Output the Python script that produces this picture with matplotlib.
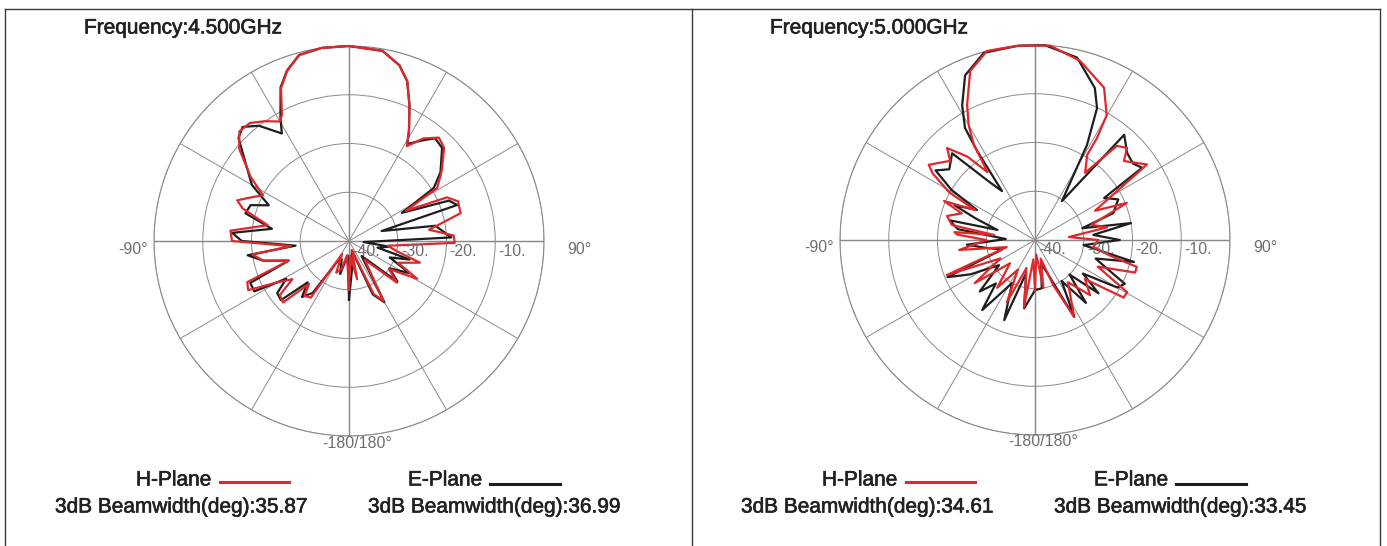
import numpy as np
import matplotlib
matplotlib.use("Agg")
import matplotlib.pyplot as plt
import matplotlib.patheffects as pe

plt.rcParams['font.family'] = ['Liberation Sans', 'DejaVu Sans']

W, H = 1387, 546

# ---- 4.5 GHz ----
h45_ang = [-180, -172, -165, -158, -152, -146, -141, -137, -133, -128, -124, -120, -116, -112, -108,
           -103, -98, -95, -90, -85, -79, -73, -70, -66, -62, -57, -50, -45, -40, -35, -30, -28, -24,
           -20, -15, -8, 0, 10, 16, 20, 24, 28.6, 31.4, 36, 41, 45.6, 53, 59, 62, 66, 70, 76, 82, 87,
           91, 97, 102, 107, 114, 119, 125, 131, 140, 150, 155, 162, 168, 175, 180]
h45_db = [-30, -37, -34, -33, -37, -26, -25.5, -28, -21.5, -22, -26, -23, -17, -17.5, -27,
          -22, -20, -28, -16, -15.6, -23, -17.2, -15.6, -18, -20, -16, -10.6, -8.2, -8.4, -10, -11.7, -10.7, -5.7,
          -2.9, -0.5, 0, 0, -0.4, -2.5, -5.1, -9.5, -14.3, -17.2, -14, -11.9, -12.7, -16.2, -18.9, -26.8, -18, -16.2, -16.4, -23.4, -18.5,
          -18.3, -32, -30, -24.8, -29, -24, -30, -27, -35, -25.8, -28, -38, -32, -37, -30]

e45_ang = [-180, -175, -165, -158, -150, -145, -140, -135, -131, -126, -121, -118, -113, -108, -103,
           -98, -95, -90, -86, -81, -75, -70, -66, -60, -55, -47, -43, -38, -32, -29, -24, -20, -15, -8, 0,
           10, 16, 20, 24, 28.6, 31, 36, 40, 45, 53, 58, 62, 68, 71.6, 73, 80, 88, 94, 98, 103,
           107, 112, 118, 124, 130, 140, 150, 156, 163, 172, 180]
e45_db = [-28, -37, -33, -36, -35, -27, -25, -28, -21.5, -21.8, -25, -18, -18, -27, -22,
          -19, -29, -18, -16, -24, -18, -18.5, -22, -17, -14.6, -9, -8, -10, -14, -11, -5.5, -2.8, -0.5, 0, 0,
          -0.4, -2.5, -5.1, -9.5, -14.3, -16.8, -14.5, -12.5, -13, -16.5, -19.5, -27.7, -17.9, -16.6, -33, -22, -19, -37, -31.6, -34,
          -27, -31, -26, -30, -27, -36, -25.5, -28, -38, -35, -28]

# ---- 5.0 GHz ----
h50_ang = [-180, -175, -170.7, -163, -155.7, -150, -141.6, -133, -125.6, -118, -111.7, -104, -97.5, -90, -86,
           -84.4, -83, -79.8, -74.7, -70, -66.8, -63.4, -61, -57, -54.7, -47, -43.7, -39, -35, -34.2,
           -32.7, -30, -26.7, -21, -14.3, -5, 4.4, 14.1, 24.4, 29.9, 31.3, 31.5, 36.7, 41, 45,
           48.4, 56, 64, 68, 75, 80, 85, 90, 97, 102, 104.8, 108, 113, 119.5, 123,
           128, 135, 142, 153, 158, 163, 170, 175, 180]
h50_db = [-29.7, -36, -26, -34, -26, -33, -27.5, -33, -24.8, -32, -20.5, -34, -24.3, -30, -24,
          -23.4, -31.6, -22.7, -21.3, -24, -19.7, -26.3, -20, -15, -13.3, -16.2, -13.9, -18, -23, -21.4,
          -16.8, -12.8, -9, -2.9, 0, 0, 0, -2.1, -5.7, -10.5, -15.6, -19.5, -22.8, -14.4, -13.3,
          -15.6, -12.3, -26.3, -19.7, -28, -25, -33, -27, -28, -24, -18.4, -18.4, -26, -18.3, -18.3,
          -27, -24, -29, -22.3, -30, -36, -30, -37, -29.7]

e50_ang = [-180, -171, -165, -159, -152, -143, -138, -133, -125, -118, -113, -106, -99.5, -94, -88,
           -82, -77, -75, -70, -66.6, -62.7, -59, -55, -50.5, -43.7, -38, -34, -33, -32, -28.4,
           -23, -15.3, -5, 3, 13, 21.5, 25.2, 28.7, 34.7, 40.3, 46.6, 52, 56, 58.7,
           64, 71, 76, 80, 85, 90, 96, 102.5, 107, 111, 116, 120, 125, 130, 135,
           141, 147, 153, 160, 166, 172, 180]
e50_db = [-29.7, -25.8, -33, -22.4, -30, -22, -28, -24.5, -31, -25, -20.5, -33, -30, -26, -34,
          -24, -22, -32, -27, -22, -26.6, -20, -15.1, -17.2, -15.4, -25, -27.9, -18.2, -12.9, -8.6,
          -3.3, -0.2, 0, 0, -1.6, -6.5, -10.1, -17.8, -30.3, -11.7, -14, -14.5, -13.5, -23.4,
          -21, -23, -30, -20, -28, -22.6, -30, -19.2, -27, -24.6, -19.5, -20.5, -28, -23, -30,
          -23.4, -30, -22.3, -33, -35, -30, -29.7]

freqs = ["Frequency:4.500GHz", "Frequency:5.000GHz"]
bw_h = ["35.87", "34.61"]
bw_e = ["36.99", "33.45"]

rings = [-30, -20, -10, 0]
ring_labels = ["-40.", "-30.", "-20.", "-10."]

RED = '#e0282c'
BLACK = '#1e1e1e'
GRID = '#8a8a8a'
LABEL = '#6e6e6e'
TXT = '#222222'
bold_fx = [pe.withStroke(linewidth=0.45, foreground=TXT)]

fig = plt.figure(figsize=(W / 100, H / 100), dpi=100)
fig.patch.set_facecolor('white')


def px(x, y):
    return x / W, 1 - y / H


def polar_panel(cx, cy, R, hang, hdb, eang, edb):
    ax = fig.add_axes([(cx - R) / W, (H - cy - R) / H, 2 * R / W, 2 * R / H], projection='polar')
    ax.set_theta_zero_location('N')
    ax.set_theta_direction(-1)
    ax.set_ylim(-40, 0)
    ax.set_rgrids(rings, labels=[''] * len(rings))
    ax.set_thetagrids(np.arange(0, 360, 30), labels=[''] * 12)
    ax.grid(True, color=GRID, lw=0.7)
    ax.spines['polar'].set_color(GRID)
    ax.spines['polar'].set_linewidth(0.8)
    ax.tick_params(length=0)
    for a in [0, 90]:
        ax.plot(np.deg2rad([a, a]), [-40, 0], color='#777777', lw=1.0, zorder=1)
        ax.plot(np.deg2rad([a + 180, a + 180]), [-40, 0], color='#777777', lw=1.0, zorder=1)
    ax.plot(np.deg2rad(hang), hdb, color=RED, lw=1.6, zorder=4, clip_on=False)
    ax.plot(np.deg2rad(eang), edb, color=BLACK, lw=1.6, zorder=3, clip_on=False)
    # radial labels
    for r, lab in zip([-40] + rings[:-1], ring_labels):
        ax.annotate(lab, xy=(np.deg2rad(90), r), xytext=(3, -10), textcoords='offset pixels',
                    ha='left', va='center', fontsize=11.5, color=LABEL, zorder=5)
    ax.annotate("-90°", xy=(np.deg2rad(-90), 0), xytext=(-6, -8), textcoords='offset pixels',
                ha='right', va='center', fontsize=11.5, color=LABEL)
    ax.annotate("90°", xy=(np.deg2rad(90), 0), xytext=(23, -8), textcoords='offset pixels',
                ha='left', va='center', fontsize=11.5, color=LABEL)
    ax.annotate("-180/180°", xy=(np.deg2rad(180), 0), xytext=(8, -7), textcoords='offset pixels',
                ha='center', va='center', fontsize=11.5, color=LABEL)
    return ax


polar_panel(349, 241, 195, h45_ang, h45_db, e45_ang, e45_db)
polar_panel(1035, 240, 195, h50_ang, h50_db, e50_ang, e50_db)

# panel text and legends
offsets = [0, 686]
for i, dx in enumerate(offsets):
    kw = dict(fontsize=15, ha='left', va='center', color=TXT, path_effects=bold_fx)
    fig.text(*px(84 + dx, 28), freqs[i], **kw)
    fig.text(*px(136 + dx, 480), "H-Plane", **kw)
    fig.text(*px(408 + dx, 480), "E-Plane", **kw)
    fig.text(*px(55 + dx, 507), "3dB Beamwidth(deg):" + bw_h[i], **kw)
    fig.text(*px(368 + dx, 507), "3dB Beamwidth(deg):" + bw_e[i], **kw)
    fig.add_artist(plt.Line2D([(220 + dx) / W, (289 + dx) / W], [1 - 482 / H] * 2, color=RED, lw=2.2))
    fig.add_artist(plt.Line2D([(490 + dx) / W, (560 + dx) / W], [1 - 484 / H] * 2, color=BLACK, lw=2.2))

# frames
frame = dict(color='#3a3a3a', lw=1)
fig.add_artist(plt.Line2D([5 / W, 1380 / W], [1 - 9 / H] * 2, **frame))
for x in [5, 692, 1380]:
    fig.add_artist(plt.Line2D([x / W] * 2, [0, 1 - 9 / H], **frame))

fig.savefig('out.png', dpi=100, facecolor='white')
